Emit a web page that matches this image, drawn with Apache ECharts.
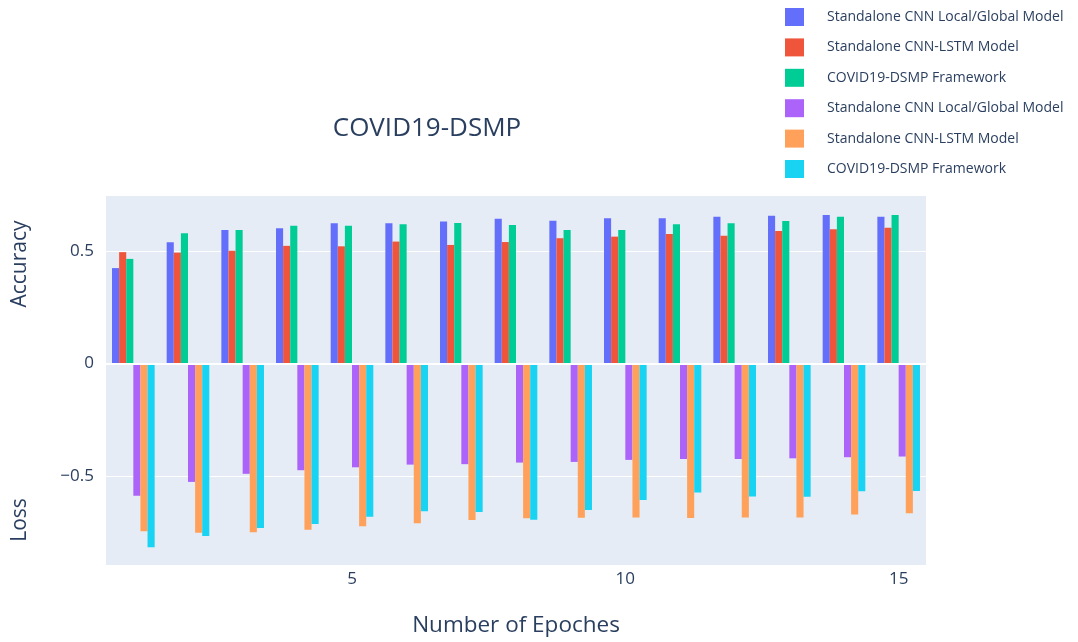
<!DOCTYPE html>
<html>
<head>
<meta charset="utf-8">
<script src="https://cdn.jsdelivr.net/npm/echarts@6/dist/echarts.min.js"></script>
<style>html,body{margin:0;padding:0;background:#fff}#c{width:1078px;height:642px}</style>
</head>
<body>
<div id="c"></div>
<script>
const epochs = ['1','2','3','4','5','6','7','8','9','10','11','12','13','14','15'];
const yTickValues = [-0.5, 0, 0.5];
const xTickLabels = ['5','10','15'];
const seriesNames = [
  'Standalone CNN Local/Global Model',
  'Standalone CNN-LSTM Model',
  'COVID19-DSMP Framework',
  'Standalone CNN Local/Global Model',
  'Standalone CNN-LSTM Model',
  'COVID19-DSMP Framework'
];
const accCnn = [0.425,0.540,0.595,0.602,0.625,0.625,0.633,0.645,0.636,0.647,0.647,0.654,0.658,0.661,0.654];
const accCnnLstm = [0.496,0.494,0.502,0.524,0.522,0.543,0.528,0.541,0.558,0.565,0.577,0.569,0.590,0.598,0.605];
const accDsmp = [0.466,0.580,0.595,0.613,0.613,0.620,0.626,0.617,0.595,0.595,0.620,0.625,0.635,0.654,0.661];
const lossCnn = [-0.589,-0.527,-0.491,-0.475,-0.462,-0.450,-0.448,-0.441,-0.438,-0.429,-0.425,-0.425,-0.422,-0.417,-0.414];
const lossCnnLstm = [-0.747,-0.753,-0.751,-0.740,-0.725,-0.711,-0.697,-0.689,-0.687,-0.685,-0.688,-0.685,-0.685,-0.672,-0.667];
const lossDsmp = [-0.818,-0.768,-0.732,-0.715,-0.682,-0.658,-0.661,-0.696,-0.652,-0.608,-0.574,-0.592,-0.593,-0.569,-0.568];

const allData = [accCnn, accCnnLstm, accDsmp, lossCnn, lossCnnLstm, lossDsmp];
const colors = ['#636efa','#EF553B','#00cc96','#ab63fa','#FFA15A','#19d3f3'];
const FONT = '"Open Sans", sans-serif';
const TXT = '#2a3f5f';

// make legend names unique (second group gets a zero-width suffix)
const uniqueNames = seriesNames.map((n, i) => i >= 3 ? n + '\u200b' : n);

const series = allData.map((d, i) => ({
  name: uniqueNames[i],
  type: 'bar',
  data: d,
  barGap: '0%',
  barCategoryGap: '22%',
  itemStyle: { color: colors[i] },
  z: 3
}));
series[0].markLine = {
  silent: true,
  symbol: 'none',
  label: { show: false },
  lineStyle: { color: '#ffffff', width: 2, type: 'solid' },
  data: [{ yAxis: 0 }],
  animation: false
};

const chart = echarts.init(document.getElementById('c'), null, { renderer: 'canvas' });
chart.setOption({
  animation: false,
  backgroundColor: '#ffffff',
  textStyle: { fontFamily: FONT, color: TXT },
  color: colors,
  grid: {
    left: 106, right: 152, top: 196, bottom: 76,
    show: true, backgroundColor: '#E5ECF6', borderWidth: 0
  },
  legend: {
    orient: 'vertical',
    left: 780, top: 3,
    itemWidth: 19, itemHeight: 18, itemGap: 12.4,
    icon: 'rect',
    data: uniqueNames,
    textStyle: { fontFamily: FONT, fontSize: 14, color: TXT, padding: [0,0,0,18] }
  },
  graphic: [
    { type: 'text', x: 427, y: 129, style: { text: 'COVID19-DSMP', fontFamily: FONT, fontSize: 26, fill: TXT, align: 'center', verticalAlign: 'middle' } },
    { type: 'text', x: 20, y: 264, rotation: Math.PI/2, style: { text: 'Accuracy', fontFamily: FONT, fontSize: 21, fill: TXT, align: 'center', verticalAlign: 'middle' } },
    { type: 'text', x: 20, y: 520, rotation: Math.PI/2, style: { text: 'Loss', fontFamily: FONT, fontSize: 21, fill: TXT, align: 'center', verticalAlign: 'middle' } }
  ],
  xAxis: {
    type: 'category',
    data: epochs,
    boundaryGap: true,
    axisLine: { show: false, onZero: false },
    axisTick: { show: false },
    splitLine: { show: false },
    axisLabel: {
      interval: 0,
      formatter: v => xTickLabels.indexOf(v) >= 0 ? v : '',
      fontFamily: FONT, fontSize: 17, color: TXT, margin: 6
    },
    name: 'Number of Epoches',
    nameLocation: 'middle',
    nameGap: 49,
    nameTextStyle: { fontFamily: FONT, fontSize: 22.5, color: TXT }
  },
  yAxis: {
    type: 'value',
    min: -0.897, max: 0.746,
    axisLine: { show: false },
    axisTick: { show: false, customValues: yTickValues },
    axisLabel: {
      customValues: yTickValues,
      formatter: v => v < 0 ? '\u2212' + Math.abs(v) : String(v),
      fontFamily: FONT, fontSize: 17, color: TXT, margin: 12
    },
    splitLine: { show: true, lineStyle: { color: '#ffffff', width: 1 } }
  },
  series: series
});
</script>
</body>
</html>
